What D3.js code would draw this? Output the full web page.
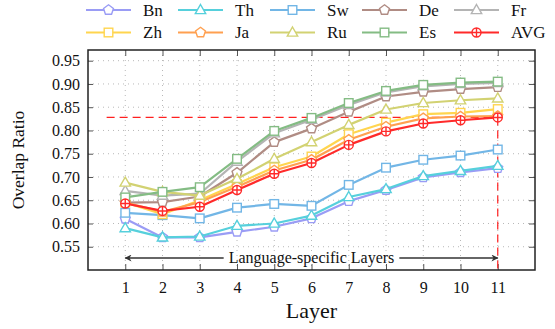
<!DOCTYPE html>
<html>
<head>
<meta charset="utf-8">
<script src="https://cdn.jsdelivr.net/npm/d3@7"></script>
<style>
  body { margin: 0; background: #fff; }
  svg text { font-family: "Liberation Serif", "Times New Roman", "DejaVu Serif", serif !important; }
</style>
</head>
<body>
<svg id="chart" width="555" height="329"></svg>
<script>
// layers on the x axis
const layers = [1, 2, 3, 4, 5, 6, 7, 8, 9, 10, 11];
const yTicks = [0.55, 0.60, 0.65, 0.70, 0.75, 0.80, 0.85, 0.90, 0.95];

// overlap ratio per language
const Bn  = [0.610, 0.570, 0.570, 0.582, 0.593, 0.611, 0.648, 0.672, 0.699, 0.710, 0.719];
const Th  = [0.590, 0.570, 0.572, 0.595, 0.600, 0.617, 0.657, 0.674, 0.702, 0.713, 0.724];
const Sw  = [0.623, 0.618, 0.611, 0.634, 0.642, 0.638, 0.683, 0.720, 0.737, 0.746, 0.759];
const De  = [0.645, 0.646, 0.658, 0.709, 0.775, 0.804, 0.840, 0.873, 0.883, 0.889, 0.893];
const Fr  = [0.670, 0.660, 0.664, 0.733, 0.794, 0.823, 0.855, 0.882, 0.895, 0.900, 0.902];
const Zh  = [0.645, 0.620, 0.650, 0.685, 0.721, 0.744, 0.792, 0.817, 0.835, 0.838, 0.846];
const Ja  = [0.645, 0.625, 0.646, 0.679, 0.714, 0.737, 0.780, 0.808, 0.826, 0.830, 0.831];
const Ru  = [0.688, 0.668, 0.660, 0.696, 0.739, 0.775, 0.812, 0.845, 0.859, 0.865, 0.869];
const Es  = [0.656, 0.668, 0.678, 0.739, 0.799, 0.827, 0.859, 0.885, 0.898, 0.903, 0.905];
const AVG = [0.643, 0.627, 0.636, 0.672, 0.707, 0.730, 0.769, 0.798, 0.815, 0.822, 0.828];

const refLevel = 0.828;   // dashed reference = AVG at last layer
const spanLabel = "Language-specific Layers";

// legend order (row by row) and drawing order
const series = [
  { name: "Bn",  values: Bn,  color: "#9a9cf5", marker: "pentagon" },
  { name: "Th",  values: Th,  color: "#56d0dc", marker: "triangle" },
  { name: "Sw",  values: Sw,  color: "#72b6e6", marker: "square" },
  { name: "De",  values: De,  color: "#b08c84", marker: "pentagon" },
  { name: "Fr",  values: Fr,  color: "#b4b4b4", marker: "triangle" },
  { name: "Zh",  values: Zh,  color: "#ffd54f", marker: "square" },
  { name: "Ja",  values: Ja,  color: "#ffa050", marker: "pentagon" },
  { name: "Ru",  values: Ru,  color: "#d2d272", marker: "triangle" },
  { name: "Es",  values: Es,  color: "#84bc84", marker: "square" },
  { name: "AVG", values: AVG, color: "#ff2a2a", marker: "oplus" },
];

const FONT = "Liberation Serif, Times New Roman, DejaVu Serif, serif";
const svg = d3.select("#chart").attr("font-family", FONT);
const margin = { left: 88, right: 20, top: 50, bottom: 59 };
const W = 555, H = 329;

const x = d3.scaleLinear().domain([0, 12]).range([margin.left, W - margin.right]);
const y = d3.scaleLinear().domain([0.5, 0.973]).range([H - margin.bottom, margin.top]);

const x0 = x.range()[0], x1 = x.range()[1];
const y0 = y.range()[0], y1 = y.range()[1];

// dotted grid
const grid = svg.append("g").attr("stroke", "#b8b8b8").attr("stroke-width", 1)
  .attr("stroke-dasharray", "1,4");
grid.selectAll(".gy").data(yTicks).join("line")
  .attr("x1", x0).attr("x2", x1)
  .attr("y1", d => y(d)).attr("y2", d => y(d));
grid.selectAll(".gx").data(layers).join("line")
  .attr("y1", y1).attr("y2", y0)
  .attr("x1", d => x(d)).attr("x2", d => x(d));

// axes with inward ticks, mirrored on all sides
const fmt = d3.format(".2f");
svg.append("g").attr("transform", `translate(0,${y0})`)
  .call(d3.axisBottom(x).tickValues(layers).tickSizeInner(-6).tickSizeOuter(0).tickPadding(12))
  .call(g => g.select(".domain").remove());
svg.append("g").attr("transform", `translate(0,${y1})`)
  .call(d3.axisTop(x).tickValues(layers).tickSizeInner(-6).tickSizeOuter(0).tickFormat(""))
  .call(g => g.select(".domain").remove());
svg.append("g").attr("transform", `translate(${x0},0)`)
  .call(d3.axisLeft(y).tickValues(yTicks).tickFormat(fmt).tickSizeInner(-5).tickSizeOuter(0).tickPadding(8))
  .call(g => g.select(".domain").remove());
svg.append("g").attr("transform", `translate(${x1},0)`)
  .call(d3.axisRight(y).tickValues(yTicks).tickFormat("").tickSizeInner(-6).tickSizeOuter(0))
  .call(g => g.select(".domain").remove());

svg.selectAll(".tick line").attr("stroke", "#555");
svg.selectAll("g").filter(function () { return this.hasAttribute("font-family"); })
  .attr("font-family", FONT);
svg.selectAll(".tick text")
  .attr("font-family", FONT)
  .attr("font-size", 16)
  .attr("fill", "#111");

// frame
svg.append("rect")
  .attr("x", x0).attr("y", y1)
  .attr("width", x1 - x0).attr("height", y0 - y1)
  .attr("fill", "none").attr("stroke", "#222").attr("stroke-width", 1.5);

// red dashed reference lines
svg.append("line")
  .attr("x1", x(0.5)).attr("x2", x(layers[layers.length - 1]))
  .attr("y1", y(refLevel)).attr("y2", y(refLevel))
  .attr("stroke", "#ff2020").attr("stroke-width", 1.2).attr("stroke-dasharray", "8,5");
svg.append("line")
  .attr("x1", x(layers[layers.length - 1])).attr("x2", x(layers[layers.length - 1]))
  .attr("y1", y(refLevel)).attr("y2", y0)
  .attr("stroke", "#ff2020").attr("stroke-width", 1.2).attr("stroke-dasharray", "8,5");

// double-headed span arrow with label
const arrowY = 258;
const defs = svg.append("defs");
defs.append("marker").attr("id", "ah").attr("viewBox", "0 0 10 10")
  .attr("refX", 9).attr("refY", 5).attr("markerWidth", 10).attr("markerHeight", 7)
  .attr("orient", "auto-start-reverse").attr("markerUnits", "userSpaceOnUse")
  .append("path").attr("d", "M0,0 L10,5 L0,10 L3,5 Z").attr("fill", "#333");

const label = svg.append("text")
  .attr("x", (x(layers[0]) + x(layers[layers.length - 1])) / 2)
  .attr("y", arrowY + 5)
  .attr("text-anchor", "middle")
  .attr("font-size", 16)
  .attr("fill", "#111")
  .text(spanLabel);
const lb = label.node().getBBox();
svg.append("line")
  .attr("x1", lb.x - 5).attr("x2", x(layers[0]))
  .attr("y1", arrowY).attr("y2", arrowY)
  .attr("stroke", "#333").attr("stroke-width", 1.5).attr("marker-end", "url(#ah)");
svg.append("line")
  .attr("x1", lb.x + lb.width + 5).attr("x2", x(layers[layers.length - 1]))
  .attr("y1", arrowY).attr("y2", arrowY)
  .attr("stroke", "#333").attr("stroke-width", 1.5).attr("marker-end", "url(#ah)");

// marker shapes
function pentagon(r) {
  const pts = d3.range(5).map(i => {
    const a = -Math.PI / 2 + i * 2 * Math.PI / 5;
    return [r * Math.cos(a), r * Math.sin(a)];
  });
  return "M" + pts.map(p => p.join(",")).join("L") + "Z";
}
function drawMarker(g, type, color) {
  if (type === "pentagon") {
    g.append("path").attr("d", pentagon(5.2));
  } else if (type === "triangle") {
    g.append("path").attr("d", "M0,-5.5L5.2,3.6L-5.2,3.6Z");
  } else if (type === "square") {
    g.append("rect").attr("x", -4.3).attr("y", -4.3).attr("width", 8.6).attr("height", 8.6);
  } else {
    g.append("circle").attr("r", 4.5);
    g.append("path").attr("d", "M-4.5,0H4.5M0,-4.5V4.5");
  }
  g.attr("fill", "#fff").attr("stroke", color).attr("stroke-width", 1.4);
}

// lines + markers
const line = d3.line().x((d, i) => x(layers[i])).y(d => y(d));
series.forEach(s => {
  const g = svg.append("g");
  g.append("path").datum(s.values)
    .attr("d", line)
    .attr("fill", "none")
    .attr("stroke", s.color)
    .attr("stroke-width", 2.2)
    .attr("stroke-linejoin", "round");
  s.values.forEach((v, i) => {
    const m = g.append("g").attr("transform", `translate(${x(layers[i])},${y(v)})`);
    drawMarker(m, s.marker, s.color);
  });
});

// axis titles
svg.append("text")
  .attr("x", (x0 + x1) / 2).attr("y", 318)
  .attr("text-anchor", "middle").attr("font-size", 22).attr("fill", "#111")
  .text("Layer");
svg.append("text")
  .attr("transform", `translate(24,${(y0 + y1) / 2}) rotate(-90)`)
  .attr("text-anchor", "middle").attr("font-size", 17.5).attr("fill", "#111")
  .text("Overlap Ratio");

// legend: 2 rows x 5 columns
const legend = svg.append("g");
series.forEach((s, i) => {
  const col = i % 5, row = Math.floor(i / 5);
  const lx = 86 + col * 92, ly = 10 + row * 22.5;
  const g = legend.append("g").attr("transform", `translate(${lx},${ly})`);
  g.append("line").attr("x1", 0).attr("x2", 45).attr("y1", 0).attr("y2", 0)
    .attr("stroke", s.color).attr("stroke-width", 2.2);
  drawMarker(g.append("g").attr("transform", "translate(22.5,0)"), s.marker, s.color);
  g.append("text").attr("x", 57).attr("y", 5.5)
    .attr("font-size", 17).attr("fill", "#111").text(s.name);
});
</script>
</body>
</html>
